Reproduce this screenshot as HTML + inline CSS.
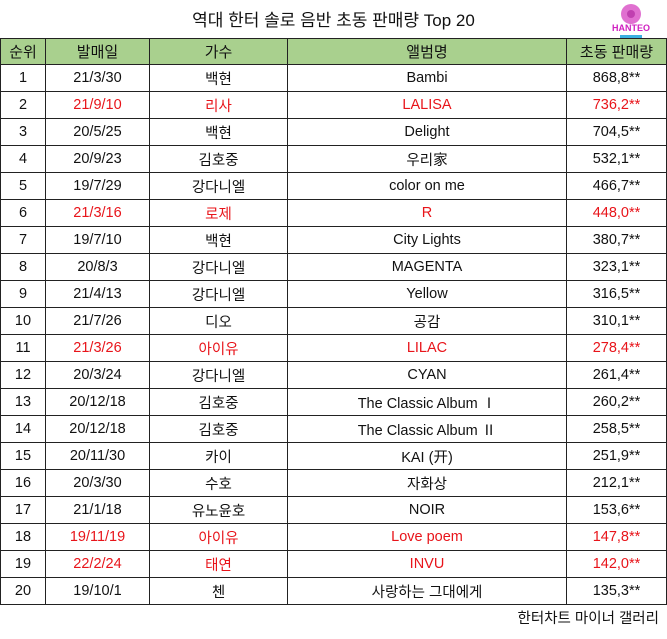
<!DOCTYPE html>
<html><head><meta charset="utf-8">
<style>
body{margin:0;width:667px;height:639px;background:#fff;font-family:"Liberation Sans","Noto Sans CJK KR",sans-serif;position:relative;overflow:hidden;color:#111}
#title{position:absolute;left:0;width:667px;top:6px;text-align:center;font-size:17px;}
#logo{position:absolute;left:606px;top:2px;width:50px;height:38px}
table{position:absolute;left:0;top:38px;border-collapse:collapse;table-layout:fixed;font-size:14.5px}
td,th{border:1.5px solid #222;text-align:center;padding:0;height:26px;white-space:nowrap}
th{background:#a9d08e;font-weight:normal;height:25px;font-size:15px}
tr.red td{color:#e8141a}
tr.red td:first-child{color:#111}
#footer{position:absolute;right:8px;top:607px;font-size:14.5px}
</style></head><body>
<div id="title">역대 한터 솔로 음반 초동 판매량 Top 20</div>
<svg id="logo" viewBox="0 0 50 38">
<circle cx="25" cy="12" r="10" fill="#e070d0"/><circle cx="25" cy="12" r="4" fill="#c040b0"/>
<text x="25" y="29" font-size="9" font-weight="bold" text-anchor="middle" fill="#d020c0" font-family="Liberation Sans">HANTEO</text>
<rect x="14" y="33" width="22" height="3" fill="#3ab0e0"/>
</svg>
<table id="tbl">
<colgroup><col style="width:45px"><col style="width:104px"><col style="width:138px"><col style="width:279px"><col style="width:100px"></colgroup>
<thead><tr><th>순위</th><th>발매일</th><th>가수</th><th>앨범명</th><th>초동 판매량</th></tr></thead>
<tbody id="tb"></tbody></table>
<div id="footer">한터차트 마이너 갤러리</div>
<script>
const dates=["21/3/30","21/9/10","20/5/25","20/9/23","19/7/29","21/3/16","19/7/10","20/8/3","21/4/13","21/7/26","21/3/26","20/3/24","20/12/18","20/12/18","20/11/30","20/3/30","21/1/18","19/11/19","22/2/24","19/10/1"];
const artists=["백현","리사","백현","김호중","강다니엘","로제","백현","강다니엘","강다니엘","디오","아이유","강다니엘","김호중","김호중","카이","수호","유노윤호","아이유","태연","첸"];
const albums=["Bambi","LALISA","Delight","우리家","color on me","R","City Lights","MAGENTA","Yellow","공감","LILAC","CYAN","The Classic Album Ⅰ","The Classic Album Ⅱ","KAI (开)","자화상","NOIR","Love poem","INVU","사랑하는 그대에게"];
const sales=["868,8**","736,2**","704,5**","532,1**","466,7**","448,0**","380,7**","323,1**","316,5**","310,1**","278,4**","261,4**","260,2**","258,5**","251,9**","212,1**","153,6**","147,8**","142,0**","135,3**"];
const redRows=[2,6,11,18,19];
const tb=document.getElementById('tb');
dates.forEach((d,i)=>{
 const tr=document.createElement('tr');
 
 
 if(redRows.includes(i+1))tr.className='red';
 [String(i+1),d,artists[i],albums[i],sales[i]].forEach(v=>{const td=document.createElement('td');td.textContent=v;tr.appendChild(td);});
 tb.appendChild(tr);
});
</script>
</body></html>
